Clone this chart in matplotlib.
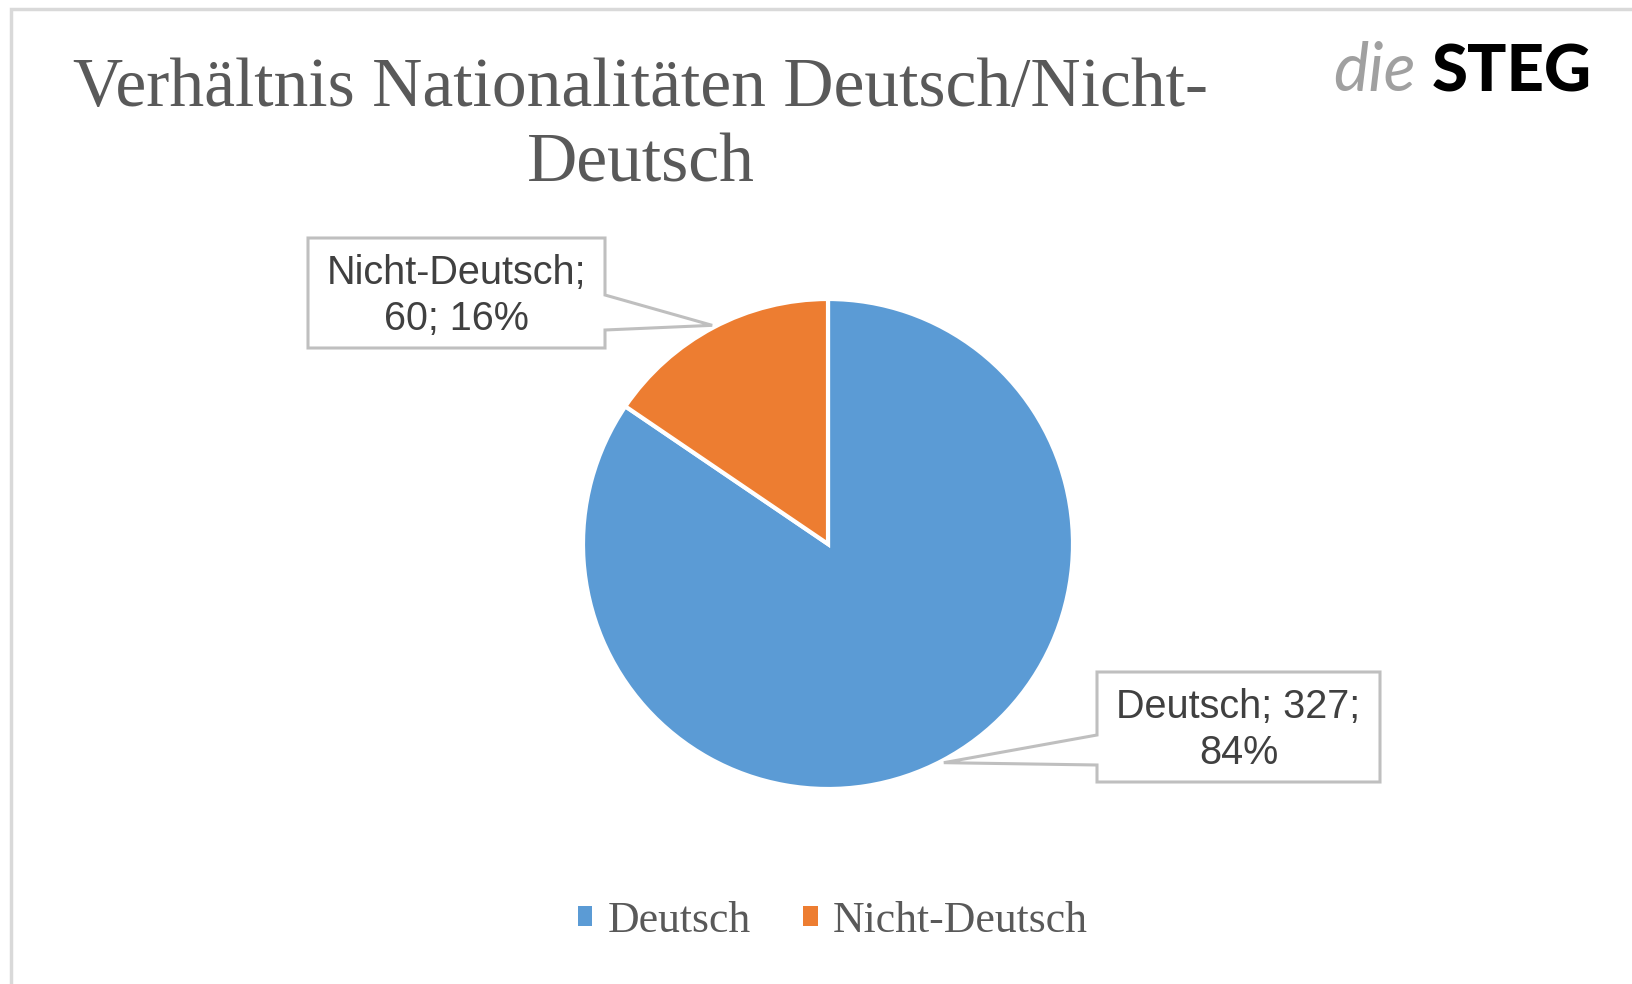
import matplotlib.pyplot as plt
from matplotlib.patches import Polygon, Rectangle
import numpy as np

W, H = 1633, 984

categories = ['Deutsch', 'Nicht-Deutsch']
values = [327, 60]
percents = ['84%', '16%']
colors = ['#5B9BD5', '#ED7D31']
title = 'Verhältnis Nationalitäten Deutsch/Nicht-\nDeutsch'

TXT = '#595959'


def fx(x):
    return x / W


def fy(y):
    return 1 - y / H


fig = plt.figure(figsize=(W / 100, H / 100), dpi=100)
fig.patch.set_facecolor('white')

# outer frame (only top/left visible in the original crop)
fig.add_artist(Rectangle((fx(11), fy(H + 20)), 1.2, fy(9) - fy(H + 20),
                         transform=fig.transFigure, fill=False,
                         edgecolor='#d9d9d9', linewidth=2.5))

# pie
cx, cy, r = 828, 544, 245
ax = fig.add_axes([fx(cx - r), fy(cy + r), 2 * r / W, 2 * r / H])
wedges, _ = ax.pie(values, colors=colors, startangle=90, counterclock=False,
                   wedgeprops=dict(edgecolor='white', linewidth=3))
ax.set_xlim(-1, 1)
ax.set_ylim(-1, 1)
ax.axis('off')

# callout boxes: (left, top, right, bottom, pointer y1, pointer y2) in px
boxes = [(1097, 672, 1380, 782, 735, 765),
         (308, 238, 605, 348, 295, 330)]
label_lines = ['Deutsch; {v};\n{p}', 'Nicht-Deutsch;\n{v}; {p}']

for w, b, fmt, v, p in zip(wedges, boxes, label_lines, values, percents):
    ang = np.deg2rad((w.theta1 + w.theta2) / 2)
    tx = cx + r * 1.01 * np.cos(ang)
    ty = cy - r * 1.01 * np.sin(ang)
    l, t, rr, bt, p1, p2 = b
    if tx < l:
        pts = [(l, t), (rr, t), (rr, bt), (l, bt), (l, p2), (tx, ty), (l, p1)]
    else:
        pts = [(l, t), (rr, t), (rr, p1), (tx, ty), (rr, p2), (rr, bt), (l, bt)]
    poly = Polygon([(fx(a), fy(c)) for a, c in pts], closed=True,
                   transform=fig.transFigure, facecolor='white',
                   edgecolor='#bfbfbf', linewidth=2.2, zorder=5)
    fig.add_artist(poly)
    fig.text(fx((l + rr) / 2), fy((t + bt) / 2 + 3), fmt.format(v=v, p=p),
             ha='center', va='center', fontsize=28.5, color='#404040',
             family='Liberation Sans', linespacing=1.28, zorder=6)

# title
fig.text(fx(641), fy(182), title, ha='center', va='baseline', fontsize=50,
         color=TXT, family='Liberation Serif', linespacing=1.25)

# logo
fig.text(fx(1333), fy(91), 'die', ha='left', va='baseline', fontsize=48,
         color='#a0a0a0', family='Lato', style='italic', weight='normal')
fig.text(fx(1432), fy(91), 'STEG', ha='left', va='baseline', fontsize=47,
         color='black', family='Lato', weight='black')

# legend
leg = fig.legend(wedges, categories, loc='center', ncol=2,
                 bbox_to_anchor=(fx(833), fy(921)), frameon=False,
                 prop={'family': 'Liberation Serif', 'size': 31.5},
                 handlelength=0.33, handleheight=0.33, handletextpad=0.35,
                 columnspacing=1.2, labelcolor=TXT)
for h in leg.legend_handles:
    h.set_edgecolor('none')

fig.savefig('out.png', dpi=100, facecolor='white')
